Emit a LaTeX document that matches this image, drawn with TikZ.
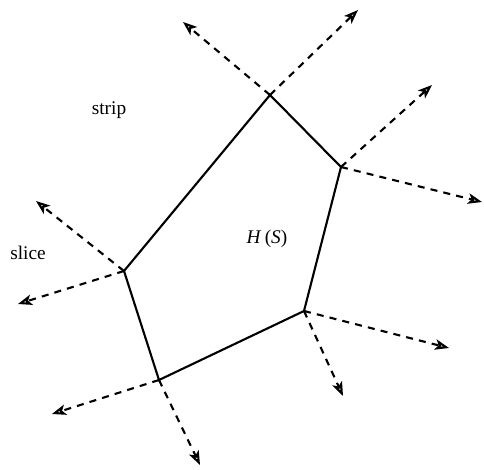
\documentclass[tikz,border=0pt]{standalone}
\usepackage{fontspec}
\setmainfont{Liberation Serif}
\usetikzlibrary{arrows.meta, positioning}

\begin{document}
\begin{tikzpicture}[x=0.02cm, y=-0.02cm,
      hullline/.style={line width=1.2pt},
      ray/.style={line width=1.2pt, dash pattern=on 4pt off 3.5pt,
        -{Stealth[open, length=8pt, width=6pt, inset=2pt]}},
      every node/.style={font=\fontsize{11}{13}\selectfont, inner sep=1pt}]
  \useasboundingbox (0,0) rectangle (484,470);
  % corners of the hull
  \coordinate (top) at (270,95);
  \coordinate (right) at (341,167);
  \coordinate (lowright) at (304,311);
  \coordinate (bottom) at (159,380);
  \coordinate (left) at (124,271);
  % free ends of the rays
  \coordinate (top1) at (183,22);
  \coordinate (top2) at (358,10);
  \coordinate (right1) at (432,85);
  \coordinate (right2) at (482,202);
  \coordinate (lowright1) at (449,348);
  \coordinate (lowright2) at (343,396);
  \coordinate (bottom1) at (52,414);
  \coordinate (bottom2) at (200,465);
  \coordinate (left1) at (36,201);
  \coordinate (left2) at (18,304);

  \draw[hullline] (top) -- (right) -- (lowright) -- (bottom) -- (left) -- cycle;
  \foreach \from in {top, right, lowright, bottom, left} {
    \draw[ray] (\from) -- (\from1);
    \draw[ray] (\from) -- (\from2);
  }

  \node (strip) at (109,110) {strip};
  \node (slice) at (28,253) {slice};
  \node (hs) at (267,239) {\textit{H}\,(\textit{S})};
\end{tikzpicture}
\end{document}
